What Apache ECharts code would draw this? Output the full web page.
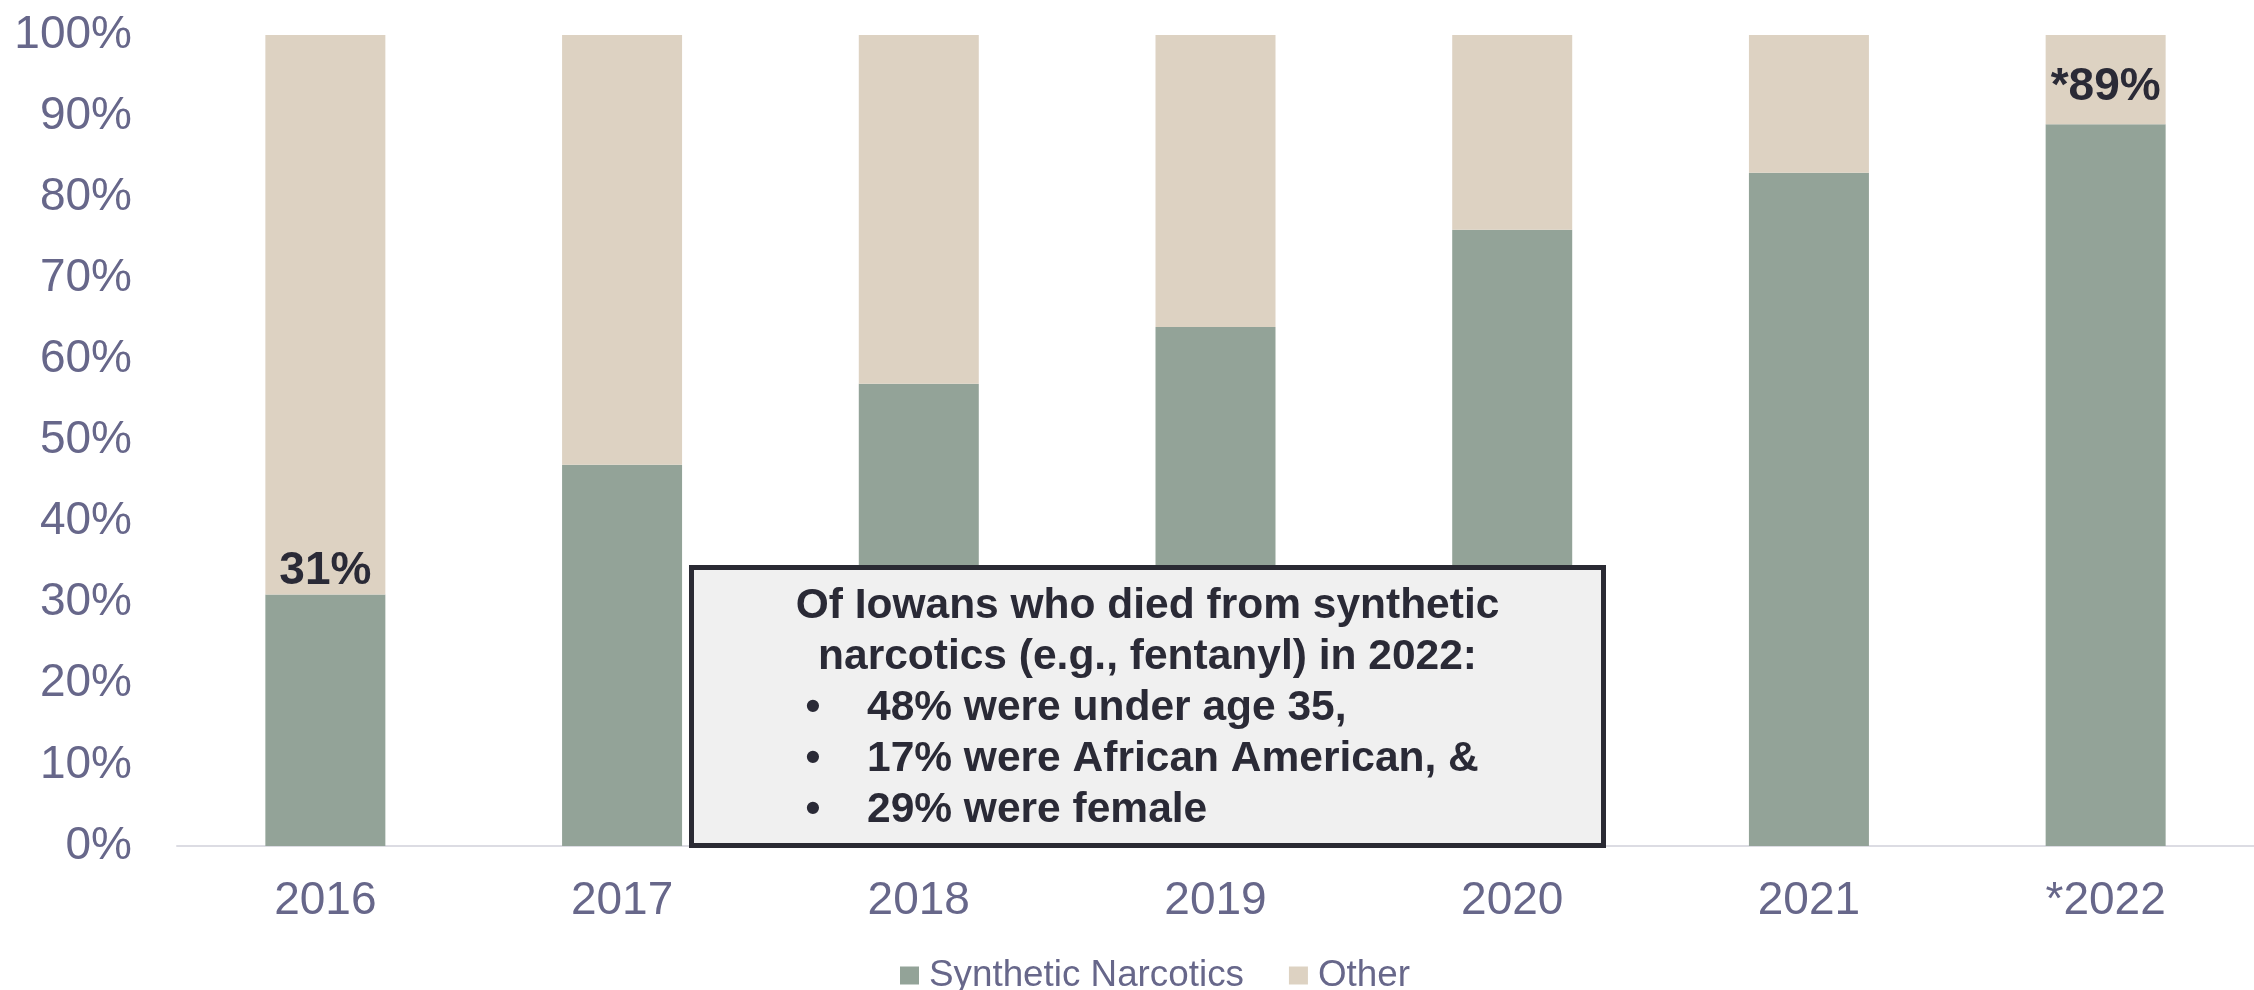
<!DOCTYPE html>
<html><head><meta charset="utf-8">
<script src="https://cdn.jsdelivr.net/npm/echarts@6/dist/echarts.min.js"></script>
<style>html,body{margin:0;padding:0;background:#fff}#c{width:2254px;height:990px}</style>
</head><body><div id="c"></div>
<script>
const years = ['2016','2017','2018','2019','2020','2021','*2022'];
const synthetic = [31, 47, 57, 64, 76, 83, 89];
const other = synthetic.map(v => 100 - v);
const yTicks = [0,10,20,30,40,50,60,70,80,90,100];
const labeledYears = ['2016','*2022'];
const boxTitle = ['Of Iowans who died from synthetic', 'narcotics (e.g., fentanyl) in 2022:'];
const boxBullets = ['48% were under age 35,', '17% were African American, &', '29% were female'];

const FONT = '"Liberation Sans", Arial, sans-serif';
const AX = '#67678a';
const TXT = '#2a2a36';

const greenData = synthetic.map((v, i) => {
  if (labeledYears.indexOf(years[i]) >= 0) {
    return {value: v, label: {show: true, distance: years[i] === '*2022' ? 14 : 0}};
  }
  return v;
});

const boxX = 691.5, boxY = 567.5, boxW = 912, boxH = 278;
const BF = 'bold 42.5px ' + FONT;
const children = [{
  type: 'rect', z: 100, shape: {x: boxX, y: boxY, width: boxW, height: boxH},
  style: {fill: '#f0f0f0', stroke: '#2a2a33', lineWidth: 5}
}];
const lineMid = [606, 657, 708, 759, 810];
boxTitle.forEach((t, i) => {
  children.push({type: 'text', z: 101, x: 1147.5, y: lineMid[i],
    style: {text: t, font: BF, fill: TXT, align: 'center', verticalAlign: 'middle'}});
});
boxBullets.forEach((t, i) => {
  children.push({type: 'text', z: 101, x: 813, y: lineMid[i + 2],
    style: {text: '•', font: BF, fill: TXT, align: 'center', verticalAlign: 'middle'}});
  children.push({type: 'text', z: 101, x: 867, y: lineMid[i + 2],
    style: {text: t, font: BF, fill: TXT, align: 'left', verticalAlign: 'middle'}});
});

const chart = echarts.init(document.getElementById('c'), null, {renderer: 'canvas'});
chart.setOption({
  animation: false,
  textStyle: {fontFamily: FONT},
  grid: {left: 177, top: 35, width: 2093, height: 811, containLabel: false},
  legend: {
    data: ['Synthetic Narcotics', 'Other'], left: 895, top: 952,
    icon: 'rect', itemWidth: 19, itemHeight: 18, itemGap: 45,
    textStyle: {fontSize: 36.8, color: AX, fontFamily: FONT, padding: [0, 0, 0, 5]}
  },
  xAxis: {
    type: 'category', data: years,
    axisTick: {show: false},
    axisLine: {lineStyle: {color: '#dcdce3', width: 2}},
    axisLabel: {fontSize: 46, color: AX, margin: 32, fontFamily: FONT}
  },
  yAxis: {
    type: 'value', min: 0, max: 100, interval: 10,
    axisLine: {show: false}, axisTick: {show: false}, splitLine: {show: false},
    axisLabel: {fontSize: 46, color: AX, margin: 45, fontFamily: FONT,
      formatter: v => (yTicks.indexOf(v) >= 0 ? v + '%' : '')}
  },
  series: [
    {name: 'Synthetic Narcotics', type: 'bar', stack: 's', data: greenData, barWidth: 120,
      itemStyle: {color: '#93a398'},
      label: {show: false, position: 'top', fontSize: 46, fontWeight: 'bold', color: TXT, fontFamily: FONT,
        formatter: p => (p.name.charAt(0) === '*' ? '*' : '') + p.value + '%'}},
    {name: 'Other', type: 'bar', stack: 's', data: other, barWidth: 120,
      itemStyle: {color: '#ddd2c2'}}
  ],
  graphic: [{type: 'group', z: 100, children: children}]
});
</script></body></html>
